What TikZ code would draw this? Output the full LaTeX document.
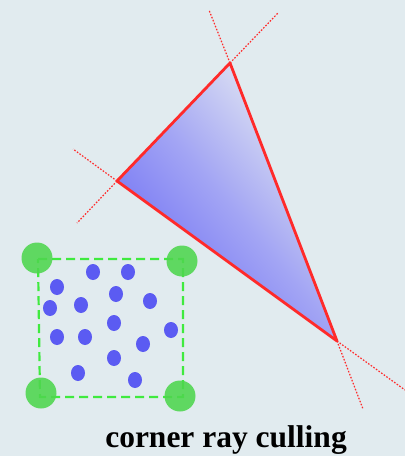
\documentclass[tikz,border=0pt]{standalone}
\usepackage{fontspec}
\setmainfont{Liberation Serif}
\usetikzlibrary{shapes.geometric}
\definecolor{bg}{HTML}{E1EBEF}
\definecolor{tri}{HTML}{FF2A2A}
\definecolor{dotblue}{HTML}{5B5BF2}
\definecolor{cgreen}{HTML}{4ED64E}
\definecolor{dgreen}{HTML}{3FEA3F}
\definecolor{shadeblue}{HTML}{6A6AF4}
\definecolor{shadelight}{HTML}{E8EDF3}
\begin{document}
\begin{tikzpicture}[x=1pt,y=-1pt,
  ext/.style={draw=tri, line width=1.2pt, dash pattern=on 1.6pt off 1.6pt},
  edgeline/.style={draw=tri, line width=2.8pt, line join=round},
  ray/.style={circle, fill=cgreen, fill opacity=0.88, minimum size=31pt, inner sep=0pt},
  pt/.style={ellipse, fill=dotblue, minimum width=14pt, minimum height=16pt, inner sep=0pt},
  lbl/.style={font=\fontsize{31.5}{36}\selectfont\bfseries, text=black, inner sep=0pt}]
\fill[bg] (0,0) rectangle (405,456);
\useasboundingbox (0,0) rectangle (405,456);
% triangle
\coordinate (A) at (230,63);
\coordinate (B) at (117,181);
\coordinate (C) at (337,341);
\coordinate (A1) at (209,10);
\coordinate (A2) at (278,13);
\coordinate (B1) at (73,149);
\coordinate (B2) at (77,223);
\coordinate (C1) at (363,409);
\coordinate (C2) at (405,390);
\shade[top color=shadelight, bottom color=shadeblue, middle color=shadeblue!55!shadelight, shading angle=-50] (A) -- (B) -- (C) -- cycle;
\draw[ext] (A) -- (A1);
\draw[ext] (A) -- (A2);
\draw[ext] (B) -- (B1);
\draw[ext] (B) -- (B2);
\draw[ext] (C) -- (C1);
\draw[ext] (C) -- (C2);
\draw[edgeline] (A) -- (B) -- (C) -- cycle;
% pixel block
\coordinate (s1) at (38,259);
\coordinate (s2) at (183,259);
\coordinate (s3) at (183,397);
\coordinate (s4) at (40,397);
\draw[dgreen, line width=2.2pt, dash pattern=on 9pt off 5pt] (s1) -- (s2) -- (s3) -- (s4) -- cycle;
\node[ray] (r1) at (37,258) {};
\node[ray] (r2) at (182,261) {};
\node[ray] (r3) at (41,393) {};
\node[ray] (r4) at (180,396) {};
% samples
\node[pt] (p1) at (93,272) {};
\node[pt] (p2) at (128,272) {};
\node[pt] (p3) at (57,287) {};
\node[pt] (p4) at (116,294) {};
\node[pt] (p5) at (50,308) {};
\node[pt] (p6) at (81,305) {};
\node[pt] (p7) at (150,301) {};
\node[pt] (p8) at (114,323) {};
\node[pt] (p9) at (171,330) {};
\node[pt] (p10) at (57,337) {};
\node[pt] (p11) at (85,337) {};
\node[pt] (p12) at (143,344) {};
\node[pt] (p13) at (114,358) {};
\node[pt] (p14) at (78,373) {};
\node[pt] (p15) at (135,380) {};
\node[lbl, anchor=base] (t) at (226,447) {corner ray culling};
\end{tikzpicture}
\end{document}
